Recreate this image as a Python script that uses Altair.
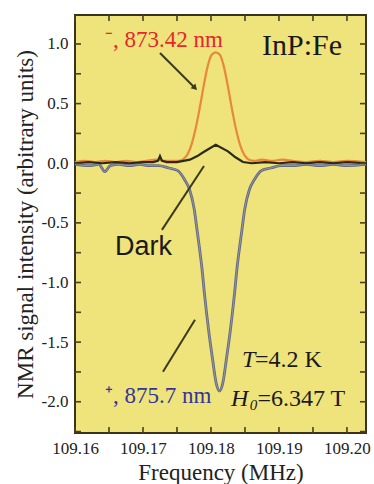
import altair as alt
import pandas as pd

# ---------------- data ----------------
orange_freq = [109.1600, 109.1615, 109.1630, 109.1645, 109.1660, 109.1675, 109.1690, 109.1705,
               109.1720, 109.1735, 109.1745, 109.1752, 109.1758, 109.1765, 109.1771, 109.1777,
               109.1783, 109.1789, 109.1795, 109.1801, 109.1807, 109.1813, 109.1819, 109.1825,
               109.1831, 109.1837, 109.1843, 109.1849, 109.1856, 109.1863, 109.1875, 109.1890,
               109.1905, 109.1920, 109.1940, 109.1960, 109.1980, 109.2000, 109.2028]
orange_val = [0.01, 0.02, 0.01, 0.02, 0.01, 0.02, 0.01, 0.02,
              0.03, 0.02, 0.02, 0.02, 0.03, 0.07, 0.15, 0.28,
              0.45, 0.64, 0.81, 0.91, 0.93, 0.91, 0.81, 0.64,
              0.45, 0.28, 0.15, 0.07, 0.03, 0.02, 0.03, 0.02,
              0.03, 0.02, 0.01, 0.02, 0.01, 0.02, 0.01]

blue_freq = [109.1600, 109.1620, 109.1635, 109.1644, 109.1652, 109.1665, 109.1680, 109.1695,
             109.1710, 109.1723, 109.1738, 109.17505, 109.17615, 109.17685, 109.17755, 109.17795,
             109.17835, 109.17865, 109.17905, 109.17965, 109.18025, 109.18075, 109.18125, 109.18175,
             109.18225, 109.18285, 109.18345, 109.18385, 109.18415, 109.18455, 109.18495, 109.18565,
             109.18635, 109.18745, 109.1888, 109.1903, 109.1920, 109.1940, 109.1960, 109.1980,
             109.2000, 109.2028]
blue_val = [-0.01, -0.02, -0.01, -0.07, -0.02, -0.01, -0.02, -0.01,
            -0.02, -0.02, -0.04, -0.06, -0.14, -0.22, -0.39, -0.56,
            -0.73, -0.87, -1.10, -1.40, -1.65, -1.84, -1.91, -1.84,
            -1.65, -1.40, -1.10, -0.87, -0.73, -0.56, -0.39, -0.22,
            -0.14, -0.06, -0.04, -0.02, -0.02, -0.01, -0.02, -0.01,
            -0.02, -0.01]

dark_freq = [109.1600, 109.1620, 109.1640, 109.1660, 109.1680, 109.1700, 109.1715, 109.1722,
             109.1725, 109.1728, 109.1735, 109.1750, 109.1769, 109.1780, 109.1788, 109.1807,
             109.1825, 109.1836, 109.1847, 109.1860, 109.1880, 109.1900, 109.1920, 109.1940,
             109.1960, 109.1980, 109.2000, 109.2028]
dark_val = [0.00, 0.01, 0.00, 0.01, 0.00, 0.01, 0.01, 0.02,
            0.06, 0.02, 0.01, 0.01, 0.03, 0.06, 0.09, 0.155,
            0.10, 0.05, 0.01, 0.00, 0.01, 0.00, 0.01, 0.00,
            0.01, 0.00, 0.01, 0.00]

x_tick_labels = [109.16, 109.17, 109.18, 109.19, 109.20]
y_tick_labels = [-2.0, -1.5, -1.0, -0.5, 0.0, 0.5, 1.0]
x_minor = [109.160, 109.165, 109.170, 109.175, 109.180, 109.185, 109.190, 109.195, 109.200]
y_minor = [-2.25, -2.0, -1.75, -1.5, -1.25, -1.0, -0.75, -0.5, -0.25, 0.0, 0.25, 0.5, 0.75, 1.0]

# annotation texts (positions in data units)
serif_text = ["\u207b, 873.42 nm", "InP:Fe", "\u207a, 875.7 nm", "=4.2 K", "=6.347 T"]
serif_f = [109.16441, 109.1875, 109.16441, 109.18647, 109.18683]
serif_v = [0.975, 0.908, -2.01, -1.707, -2.034]
serif_color = ["#e8262e", "#1a1a1a", "#34349a", "#1a1a1a", "#1a1a1a"]
serif_size = [23, 30, 23, 24, 24]

italic_text = ["T", "H", "0"]
italic_f = [109.18456, 109.18294, 109.18570]
italic_v = [-1.707, -2.034, -2.068]
italic_size = [24, 24, 15]

dark_label = ["Dark"]
dark_label_f = [109.16588]
dark_label_v = [-0.769]

arrow_f1 = [109.1725, 109.17279, 109.17294]
arrow_v1 = [0.925, -0.559, -1.749]
arrow_f2 = [109.17765, 109.17897, 109.17765]
arrow_v2 = [0.631, -0.023, -1.313]

# ---------------- chart ----------------
W, H = 291, 418
xs = alt.Scale(domain=[109.16, 109.2028], nice=False, zero=False)
ys = alt.Scale(domain=[-2.262, 1.243], nice=False, zero=False)
SERIF = "Liberation Serif"

x_axis = alt.Axis(values=x_tick_labels, format=".2f", tickSize=0, domain=False, grid=False,
                  labelOverlap=False, labelBound=False, labelFlush=False,
                  labelFont=SERIF, labelFontSize=17, labelColor="#222222", labelPadding=7,
                  title="Frequency (MHz)", titleFont=SERIF, titleFontSize=23,
                  titleFontWeight="normal", titleColor="#222222", titlePadding=5)
y_axis = alt.Axis(values=y_tick_labels, tickSize=0, domain=False, grid=False,
                  labelOverlap=False,
                  labelExpr="datum.value < 0 ? '-' + format(-datum.value, '.1f') : format(datum.value, '.1f')",
                  labelFont=SERIF, labelFontSize=17, labelColor="#222222", labelPadding=7,
                  title="NMR signal intensity (arbitrary units)", titleFont=SERIF, titleFontSize=23,
                  titleFontWeight="normal", titleColor="#222222", titlePadding=4)

orange_df = pd.DataFrame({"f": orange_freq, "v": orange_val})
blue_df = pd.DataFrame({"f": blue_freq, "v": blue_val})
dark_df = pd.DataFrame({"f": dark_freq, "v": dark_val})

base_orange = alt.Chart(orange_df).mark_line(color="#e8883a", strokeWidth=2.2, interpolate="monotone").encode(
    x=alt.X("f:Q", scale=xs, axis=x_axis),
    y=alt.Y("v:Q", scale=ys, axis=y_axis),
)
blue_outer = alt.Chart(blue_df).mark_line(color="#626882", strokeWidth=2.8, interpolate="monotone").encode(
    x=alt.X("f:Q", scale=xs), y=alt.Y("v:Q", scale=ys))
blue_inner = alt.Chart(blue_df).mark_line(color="#9a9ca4", strokeWidth=0.9, interpolate="monotone").encode(
    x=alt.X("f:Q", scale=xs), y=alt.Y("v:Q", scale=ys))
dark_line = alt.Chart(dark_df).mark_line(color="#2a2a18", strokeWidth=2.2).encode(
    x=alt.X("f:Q", scale=xs), y=alt.Y("v:Q", scale=ys))

tick_color = "#4a3f1e"
xm = pd.DataFrame({"f": x_minor})
ym = pd.DataFrame({"v": y_minor})
top_ticks = alt.Chart(xm).mark_tick(orient="vertical", color=tick_color, size=6, thickness=1.6,
                                    opacity=1).encode(
    x=alt.X("f:Q", scale=xs), y=alt.value(3))
bot_ticks = alt.Chart(xm).mark_tick(orient="vertical", color=tick_color, size=6, thickness=1.6,
                                    opacity=1).encode(
    x=alt.X("f:Q", scale=xs), y=alt.value(H - 3))
left_ticks = alt.Chart(ym).mark_tick(orient="horizontal", color=tick_color, size=6, thickness=1.6,
                                     opacity=1).encode(
    y=alt.Y("v:Q", scale=ys), x=alt.value(3))
right_ticks = alt.Chart(ym).mark_tick(orient="horizontal", color=tick_color, size=6, thickness=1.6,
                                      opacity=1).encode(
    y=alt.Y("v:Q", scale=ys), x=alt.value(W - 3))

arrows_df = pd.DataFrame({"f1": arrow_f1, "v1": arrow_v1, "f2": arrow_f2, "v2": arrow_v2})
arrows = alt.Chart(arrows_df).mark_rule(color="#3a3a1c", strokeWidth=2).encode(
    x=alt.X("f1:Q", scale=xs), y=alt.Y("v1:Q", scale=ys), x2="f2:Q", y2="v2:Q")
head_df = pd.DataFrame({"f": arrow_f2[:1], "v": arrow_v2[:1]})
head = alt.Chart(head_df).mark_point(shape="triangle-up", angle=135, size=45, filled=True,
                                     color="#3a3a1c", opacity=1).encode(
    x=alt.X("f:Q", scale=xs), y=alt.Y("v:Q", scale=ys))

serif_df = pd.DataFrame({"t": serif_text, "f": serif_f, "v": serif_v, "c": serif_color, "s": serif_size})
serif_layer = alt.Chart(serif_df).mark_text(font=SERIF, align="left", baseline="alphabetic").encode(
    x=alt.X("f:Q", scale=xs), y=alt.Y("v:Q", scale=ys), text="t:N",
    color=alt.Color("c:N", scale=None), size=alt.Size("s:Q", scale=None))
italic_df = pd.DataFrame({"t": italic_text, "f": italic_f, "v": italic_v, "s": italic_size})
italic_layer = alt.Chart(italic_df).mark_text(font=SERIF, fontStyle="italic", align="left",
                                              baseline="alphabetic", color="#1a1a1a").encode(
    x=alt.X("f:Q", scale=xs), y=alt.Y("v:Q", scale=ys), text="t:N",
    size=alt.Size("s:Q", scale=None))
dark_df_lbl = pd.DataFrame({"t": dark_label, "f": dark_label_f, "v": dark_label_v})
dark_layer = alt.Chart(dark_df_lbl).mark_text(font="Liberation Sans", fontSize=27, align="left",
                                              baseline="alphabetic", color="#1a1a1a").encode(
    x=alt.X("f:Q", scale=xs), y=alt.Y("v:Q", scale=ys), text="t:N")

chart = alt.layer(
    base_orange, blue_outer, blue_inner, dark_line,
    top_ticks, bot_ticks, left_ticks, right_ticks,
    arrows, head, serif_layer, italic_layer, dark_layer,
).properties(
    width=W, height=H,
    padding={"left": 75, "top": 15, "right": 8, "bottom": 51},
    autosize=alt.AutoSizeParams(type="none"),
    background="white",
).configure_view(
    fill="#efe37b", stroke="#3a321c", strokeWidth=2,
)

chart.save("out.html", embed_options={"renderer": "svg", "actions": False})
